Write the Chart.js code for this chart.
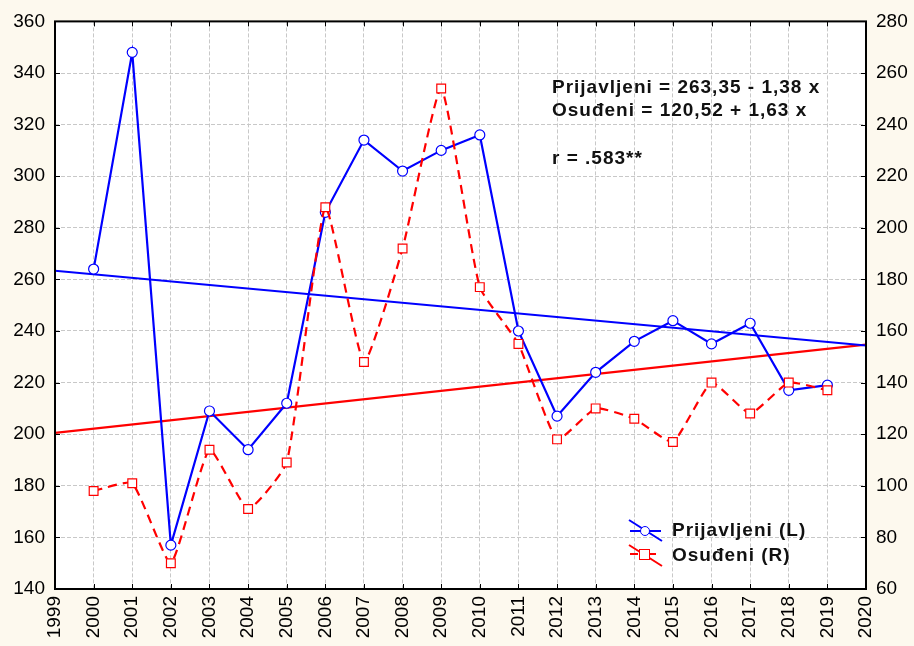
<!DOCTYPE html>
<html><head><meta charset="utf-8">
<script src="https://cdn.jsdelivr.net/npm/chart.js@4/dist/chart.umd.min.js"></script>
<style>html,body{margin:0;padding:0;background:#fdf9ee;}</style>
</head><body>
<canvas id="c" width="914" height="646"></canvas>
<script>
const years = [2000,2001,2002,2003,2004,2005,2006,2007,2008,2009,2010,2011,2012,2013,2014,2015,2016,2017,2018,2019];
const yearLabels = ['1999','2000','2001','2002','2003','2004','2005','2006','2007','2008','2009','2010','2011','2012','2013','2014','2015','2016','2017','2018','2019','2020'];
const prijavljeni = [264,348,157,209,194,212,286,314,302,310,316,240,207,224,236,244,235,243,217,219];
const osudjeni = [98,101,70,114,91,109,208,148,192,254,177,155,118,130,126,117,140,128,140,137];
const trendYears = [1999, 2020];
const trendPrijavljeni = [263.35, 234.37];
const trendOsudjeni = [120.52, 154.75];
const leftRange = [140, 360];
const rightRange = [60, 280];
const annotationLines = ['Prijavljeni = 263,35 - 1,38 x', 'Osuđeni = 120,52 + 1,63 x', 'r = .583**'];
const legendLabels = ['Prijavljeni (L)', 'Osuđeni (R)'];

const FONT = '"Liberation Sans", Arial, sans-serif';
const BLUE = '#0000ff', RED = '#ff0000';

const toXY = (xs, ys) => xs.map((x, i) => ({x, y: ys[i]}));

const framePlugin = {
  id: 'frame',
  beforeDraw(chart) {
    const {ctx, chartArea: a} = chart;
    ctx.save();
    ctx.fillStyle = '#ffffff';
    ctx.fillRect(a.left, a.top, a.right - a.left, a.bottom - a.top);
    ctx.restore();
  },
  afterDraw(chart) {
    const {ctx, chartArea: a, scales} = chart;
    ctx.save();
    // inward ticks
    ctx.strokeStyle = '#000'; ctx.lineWidth = 1;
    ctx.beginPath();
    for (let i = 0; i < yearLabels.length; i++) {
      const px = Math.round(scales.x.getPixelForValue(Number(yearLabels[i]))) + 0.5;
      ctx.moveTo(px, a.bottom); ctx.lineTo(px, a.bottom - 5);
      ctx.moveTo(px, a.top); ctx.lineTo(px, a.top + 5);
    }
    for (let v = leftRange[0]; v <= leftRange[1]; v += 20) {
      const py = Math.round(scales.y.getPixelForValue(v)) + 0.5;
      ctx.moveTo(a.left, py); ctx.lineTo(a.left + 5, py);
    }
    for (let v = rightRange[0]; v <= rightRange[1]; v += 20) {
      const py = Math.round(scales.y2.getPixelForValue(v)) + 0.5;
      ctx.moveTo(a.right, py); ctx.lineTo(a.right - 5, py);
    }
    ctx.stroke();
    // frame
    ctx.lineWidth = 2;
    ctx.strokeRect(a.left, a.top, a.right - a.left, a.bottom - a.top);

    // annotation
    ctx.fillStyle = '#111';
    ctx.font = 'bold 19px ' + FONT;
    if ('letterSpacing' in ctx) ctx.letterSpacing = '1px';
    ctx.textBaseline = 'middle';
    ctx.textAlign = 'left';
    ctx.fillText(annotationLines[0], 552, 88);
    ctx.fillText(annotationLines[1], 552, 111);
    ctx.fillText(annotationLines[2], 552, 159);

    // legend
    ctx.fillText(legendLabels[0], 672, 531);
    ctx.fillText(legendLabels[1], 672, 556);
    if ('letterSpacing' in ctx) ctx.letterSpacing = '0px';
    // blue symbol
    ctx.lineWidth = 2; ctx.strokeStyle = BLUE;
    ctx.beginPath();
    ctx.moveTo(629, 520); ctx.lineTo(662, 541);
    ctx.moveTo(630, 531); ctx.lineTo(661, 531);
    ctx.stroke();
    ctx.lineWidth = 1; ctx.fillStyle = '#ffffff';
    ctx.beginPath(); ctx.arc(645, 531, 4.5, 0, Math.PI * 2); ctx.fill(); ctx.stroke();
    // red symbol
    ctx.lineWidth = 2; ctx.strokeStyle = RED;
    ctx.beginPath();
    ctx.moveTo(629, 545); ctx.lineTo(662, 566);
    ctx.moveTo(630, 554); ctx.lineTo(638, 554);
    ctx.moveTo(650, 554); ctx.lineTo(656, 554);
    ctx.stroke();
    ctx.lineWidth = 1; ctx.fillStyle = '#ffffff';
    ctx.fillRect(639.5, 549.5, 10, 10);
    ctx.strokeRect(639.5, 549.5, 10, 10);
    ctx.restore();
  }
};

new Chart(document.getElementById('c'), {
  type: 'line',
  data: {
    datasets: [
      { label: 'Osuđeni (R)', data: toXY(years, osudjeni), yAxisID: 'y2', order: 0,
        borderColor: RED, borderWidth: 2.2, borderDash: [9, 6], backgroundColor: '#fff',
        pointStyle: 'rect', pointRadius: 6.2, pointBorderWidth: 1.2, pointBorderColor: RED, pointBackgroundColor: '#fff',
        tension: 0.15 },
      { label: 'Prijavljeni (L)', data: toXY(years, prijavljeni), yAxisID: 'y', order: 1,
        borderColor: BLUE, borderWidth: 2.2, backgroundColor: '#fff',
        pointStyle: 'circle', pointRadius: 5, pointBorderWidth: 1.2, pointBorderColor: BLUE, pointBackgroundColor: '#fff',
        tension: 0 },
      { label: 'trendL', data: toXY(trendYears, trendPrijavljeni), yAxisID: 'y', order: 2,
        borderColor: BLUE, borderWidth: 2.2, pointRadius: 0, tension: 0 },
      { label: 'trendR', data: toXY(trendYears, trendOsudjeni), yAxisID: 'y2', order: 3,
        borderColor: RED, borderWidth: 2.2, pointRadius: 0, tension: 0 }
    ]
  },
  options: {
    responsive: false,
    animation: false,
    layout: { padding: { top: 19, left: 0, right: 0, bottom: 0 } },
    plugins: { legend: { display: false }, tooltip: { enabled: false } },
    elements: { line: { fill: false } },
    scales: {
      x: {
        type: 'linear', min: 1999, max: 2020,
        afterFit: s => { s.height = 57; },
        grid: { color: '#c8c8c8', lineWidth: 1, drawTicks: false },
        border: { display: false, dash: [4, 2] },
        ticks: { stepSize: 1, autoSkip: false, minRotation: 90, maxRotation: 90, padding: 7,
          color: '#000', font: { family: FONT, size: 19 },
          callback: (v) => yearLabels[Math.round(v) - 1999] }
      },
      y: {
        position: 'left', min: leftRange[0], max: leftRange[1],
        afterFit: s => { s.width = 55; },
        grid: { color: '#c8c8c8', lineWidth: 1, drawTicks: false },
        border: { display: false, dash: [4, 2] },
        ticks: { stepSize: 20, padding: 10, color: '#000', font: { family: FONT, size: 19 } }
      },
      y2: {
        position: 'right', min: rightRange[0], max: rightRange[1],
        afterFit: s => { s.width = 48; },
        grid: { display: false, drawTicks: false },
        border: { display: false },
        ticks: { stepSize: 20, padding: 10, color: '#000', font: { family: FONT, size: 19 } }
      }
    }
  },
  plugins: [framePlugin]
});
</script>
</body></html>
